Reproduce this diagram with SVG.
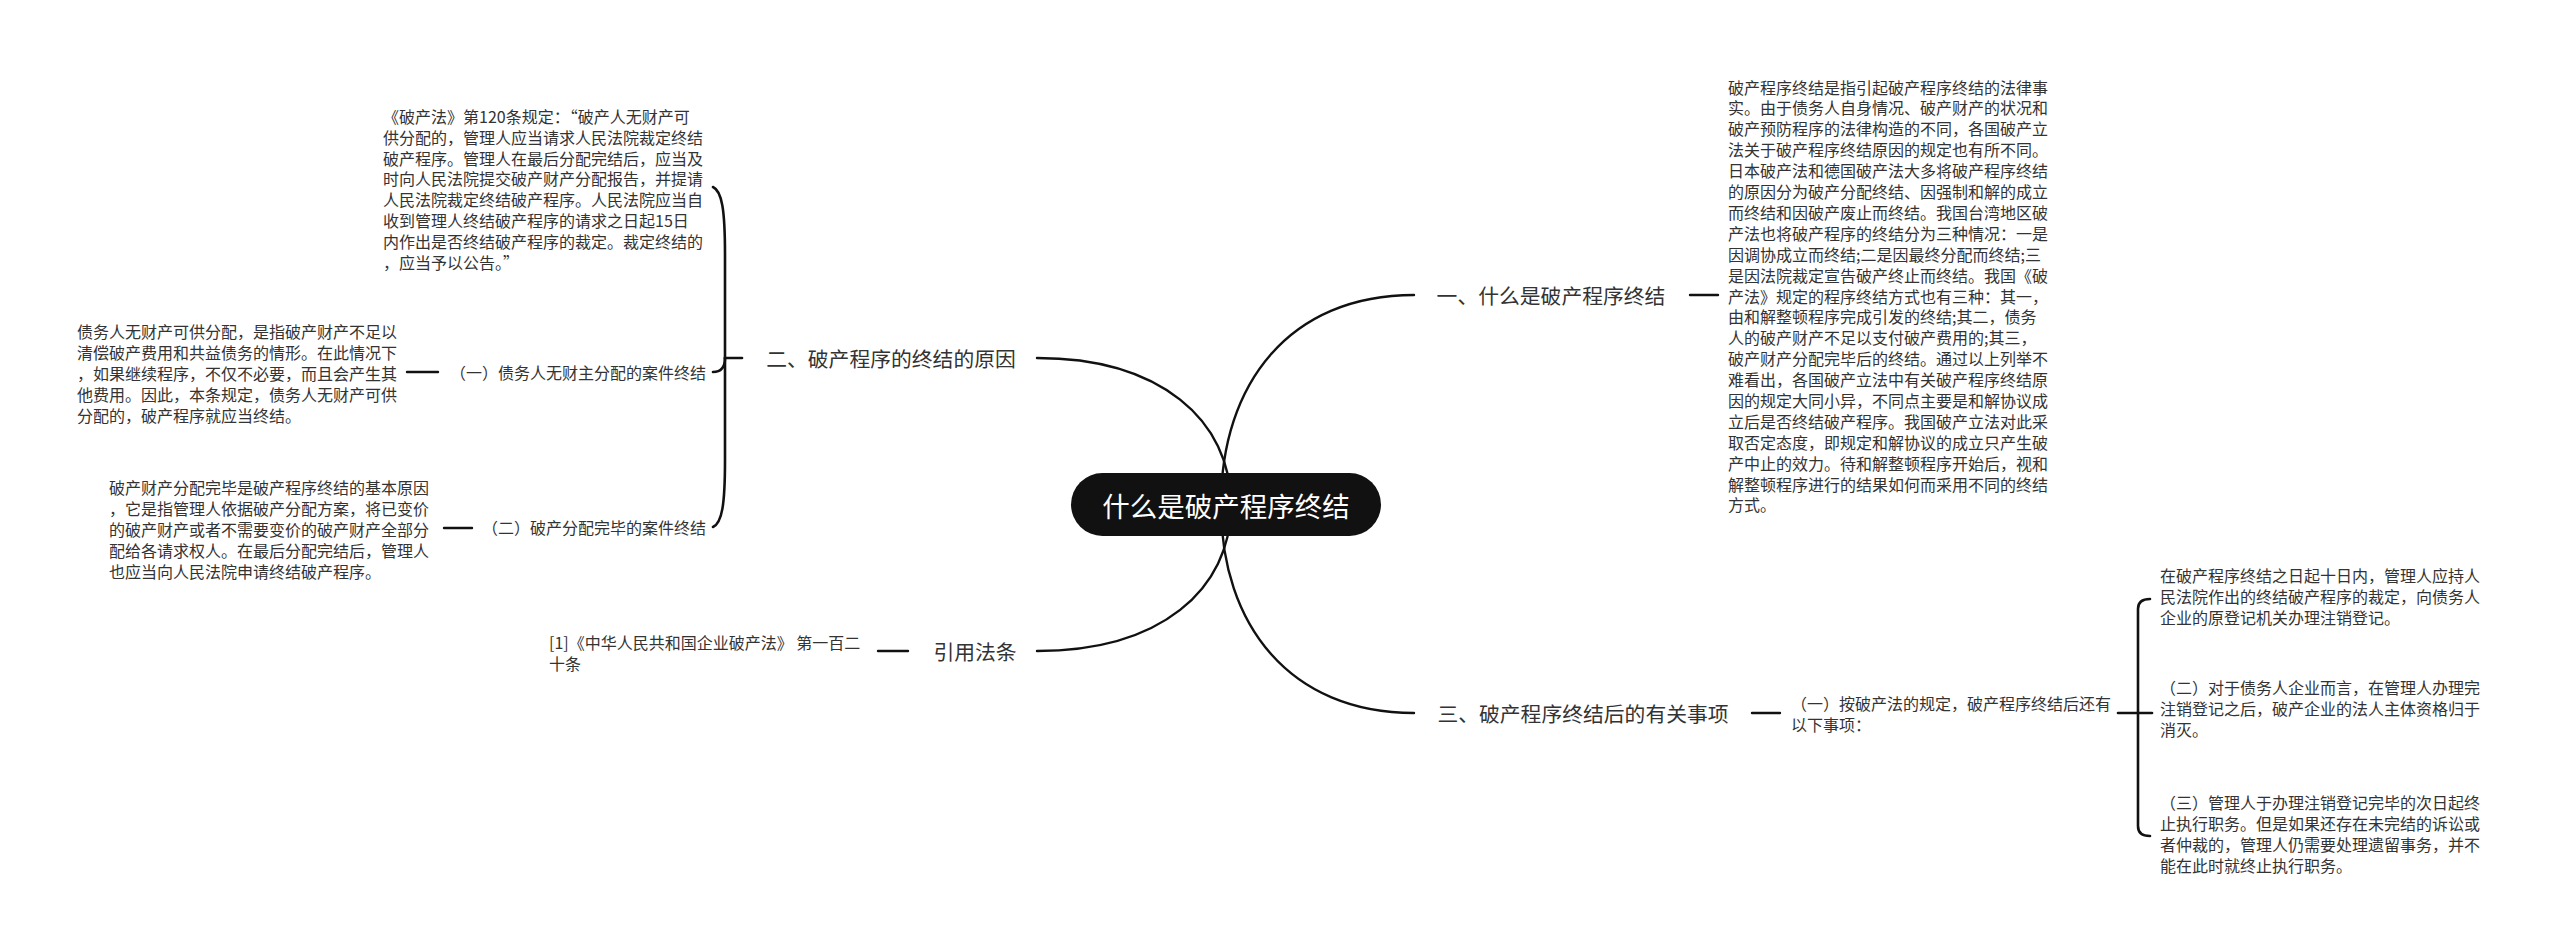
<svg xmlns="http://www.w3.org/2000/svg" width="2560" height="950" viewBox="0 0 2560 950">
<style>
.bg{fill:#ffffff}
.ln{fill:none;stroke:#111;stroke-width:2.4;stroke-linecap:round}
.br{fill:none;stroke:#111;stroke-width:2.6;stroke-linecap:round}
.t{font-family:"Noto Sans CJK SC","Noto Sans",sans-serif;font-size:16px;fill:#333;dominant-baseline:central}
.b{font-family:"Noto Sans CJK SC","Noto Sans",sans-serif;font-size:20.8px;fill:#333;dominant-baseline:central;text-anchor:middle}
.c{font-family:"Noto Sans CJK SC","Noto Sans",sans-serif;font-size:27.5px;fill:#fff;dominant-baseline:central;text-anchor:middle}
</style>
<rect class="bg" x="0" y="0" width="2560" height="950"/>
<g id="connectors">
<path class="ln" d="M1037,358 C1160,358 1231,420 1231,505"/>
<path class="ln" d="M1037,651 C1160,651 1231,590 1231,505"/>
<path class="ln" d="M1414,295 C1290,295 1221,383 1221,505"/>
<path class="ln" d="M1414,713 C1290,713 1221,625 1221,505"/>
<path class="ln" d="M1690,295 H1718"/>
<path class="ln" d="M1752,713 H1780"/>
<path class="ln" d="M878,651 H908"/>
<path class="ln" d="M407,372 H438"/>
<path class="ln" d="M444,528 H472"/>
<path class="br" d="M742,358 H725"/>
<path class="br" d="M725,358 V255 C725,210 722,191 713,187"/>
<path class="br" d="M725,358 C725,367 721,372 713,372"/>
<path class="br" d="M725,358 V460 C725,505 722,523 713,527"/>
<path class="br" d="M2118,713 H2152"/>
<path class="br" d="M2138,713 V609 Q2138,599 2150,599"/>
<path class="br" d="M2138,713 V826 Q2138,836 2150,836"/>
</g>
<g id="root">
<rect x="1071" y="473" width="310" height="63" rx="31.5" fill="#111"/>
<text class="c" x="1226" y="505">什么是破产程序终结</text>
</g>
<g id="b1">
<text class="b" x="1551" y="295">一、什么是破产程序终结</text>
</g>
<g id="b1-text">
<text class="t" x="1728" y="86.5">
<tspan x="1728" dy="0">破产程序终结是指引起破产程序终结的法律事</tspan>
<tspan x="1728" dy="20.9">实。由于债务人自身情况、破产财产的状况和</tspan>
<tspan x="1728" dy="20.9">破产预防程序的法律构造的不同，各国破产立</tspan>
<tspan x="1728" dy="20.9">法关于破产程序终结原因的规定也有所不同。</tspan>
<tspan x="1728" dy="20.9">日本破产法和德国破产法大多将破产程序终结</tspan>
<tspan x="1728" dy="20.9">的原因分为破产分配终结、因强制和解的成立</tspan>
<tspan x="1728" dy="20.9">而终结和因破产废止而终结。我国台湾地区破</tspan>
<tspan x="1728" dy="20.9">产法也将破产程序的终结分为三种情况：一是</tspan>
<tspan x="1728" dy="20.9">因调协成立而终结;二是因最终分配而终结;三</tspan>
<tspan x="1728" dy="20.9">是因法院裁定宣告破产终止而终结。我国《破</tspan>
<tspan x="1728" dy="20.9">产法》规定的程序终结方式也有三种：其一，</tspan>
<tspan x="1728" dy="20.9">由和解整顿程序完成引发的终结;其二，债务</tspan>
<tspan x="1728" dy="20.9">人的破产财产不足以支付破产费用的;其三，</tspan>
<tspan x="1728" dy="20.9">破产财产分配完毕后的终结。通过以上列举不</tspan>
<tspan x="1728" dy="20.9">难看出，各国破产立法中有关破产程序终结原</tspan>
<tspan x="1728" dy="20.9">因的规定大同小异，不同点主要是和解协议成</tspan>
<tspan x="1728" dy="20.9">立后是否终结破产程序。我国破产立法对此采</tspan>
<tspan x="1728" dy="20.9">取否定态度，即规定和解协议的成立只产生破</tspan>
<tspan x="1728" dy="20.9">产中止的效力。待和解整顿程序开始后，视和</tspan>
<tspan x="1728" dy="20.9">解整顿程序进行的结果如何而采用不同的终结</tspan>
<tspan x="1728" dy="20.9">方式。</tspan>
</text>
</g>
<g id="b2">
<text class="b" x="891" y="358">二、破产程序的终结的原因</text>
</g>
<g id="b2-law">
<text class="t" x="383" y="116">
<tspan x="383" dy="0">《破产法》第120条规定：“破产人无财产可</tspan>
<tspan x="383" dy="20.8">供分配的，管理人应当请求人民法院裁定终结</tspan>
<tspan x="383" dy="20.8">破产程序。管理人在最后分配完结后，应当及</tspan>
<tspan x="383" dy="20.8">时向人民法院提交破产财产分配报告，并提请</tspan>
<tspan x="383" dy="20.8">人民法院裁定终结破产程序。人民法院应当自</tspan>
<tspan x="383" dy="20.8">收到管理人终结破产程序的请求之日起15日</tspan>
<tspan x="383" dy="20.8">内作出是否终结破产程序的裁定。裁定终结的</tspan>
<tspan x="383" dy="20.8">，应当予以公告。”</tspan>
</text>
</g>
<g id="b2-1">
<text class="t" x="706" y="372" text-anchor="end">（一）债务人无财主分配的案件终结</text>
</g>
<g id="b2-1-text">
<text class="t" x="77" y="331">
<tspan x="77" dy="0">债务人无财产可供分配，是指破产财产不足以</tspan>
<tspan x="77" dy="21">清偿破产费用和共益债务的情形。在此情况下</tspan>
<tspan x="77" dy="21">，如果继续程序，不仅不必要，而且会产生其</tspan>
<tspan x="77" dy="21">他费用。因此，本条规定，债务人无财产可供</tspan>
<tspan x="77" dy="21">分配的，破产程序就应当终结。</tspan>
</text>
</g>
<g id="b2-2">
<text class="t" x="706" y="527" text-anchor="end">（二）破产分配完毕的案件终结</text>
</g>
<g id="b2-2-text">
<text class="t" x="109" y="487">
<tspan x="109" dy="0">破产财产分配完毕是破产程序终结的基本原因</tspan>
<tspan x="109" dy="21">，它是指管理人依据破产分配方案，将已变价</tspan>
<tspan x="109" dy="21">的破产财产或者不需要变价的破产财产全部分</tspan>
<tspan x="109" dy="21">配给各请求权人。在最后分配完结后，管理人</tspan>
<tspan x="109" dy="21">也应当向人民法院申请终结破产程序。</tspan>
</text>
</g>
<g id="b4">
<text class="b" x="975" y="651">引用法条</text>
</g>
<g id="b4-text">
<text class="t" x="549" y="642">
<tspan x="549" dy="0">[1]《中华人民共和国企业破产法》 第一百二</tspan>
<tspan x="549" dy="21">十条</tspan>
</text>
</g>
<g id="b3">
<text class="b" x="1583" y="713">三、破产程序终结后的有关事项</text>
</g>
<g id="b3-1">
<text class="t" x="1791" y="703">
<tspan x="1791" dy="0">（一）按破产法的规定，破产程序终结后还有</tspan>
<tspan x="1791" dy="21">以下事项：</tspan>
</text>
</g>
<g id="b3-1-a">
<text class="t" x="2160" y="575">
<tspan x="2160" dy="0">在破产程序终结之日起十日内，管理人应持人</tspan>
<tspan x="2160" dy="21">民法院作出的终结破产程序的裁定，向债务人</tspan>
<tspan x="2160" dy="21">企业的原登记机关办理注销登记。</tspan>
</text>
</g>
<g id="b3-1-b">
<text class="t" x="2160" y="687">
<tspan x="2160" dy="0">（二）对于债务人企业而言，在管理人办理完</tspan>
<tspan x="2160" dy="21">注销登记之后，破产企业的法人主体资格归于</tspan>
<tspan x="2160" dy="21">消灭。</tspan>
</text>
</g>
<g id="b3-1-c">
<text class="t" x="2160" y="802">
<tspan x="2160" dy="0">（三）管理人于办理注销登记完毕的次日起终</tspan>
<tspan x="2160" dy="21">止执行职务。但是如果还存在未完结的诉讼或</tspan>
<tspan x="2160" dy="21">者仲裁的，管理人仍需要处理遗留事务，并不</tspan>
<tspan x="2160" dy="21">能在此时就终止执行职务。</tspan>
</text>
</g>
</svg>
